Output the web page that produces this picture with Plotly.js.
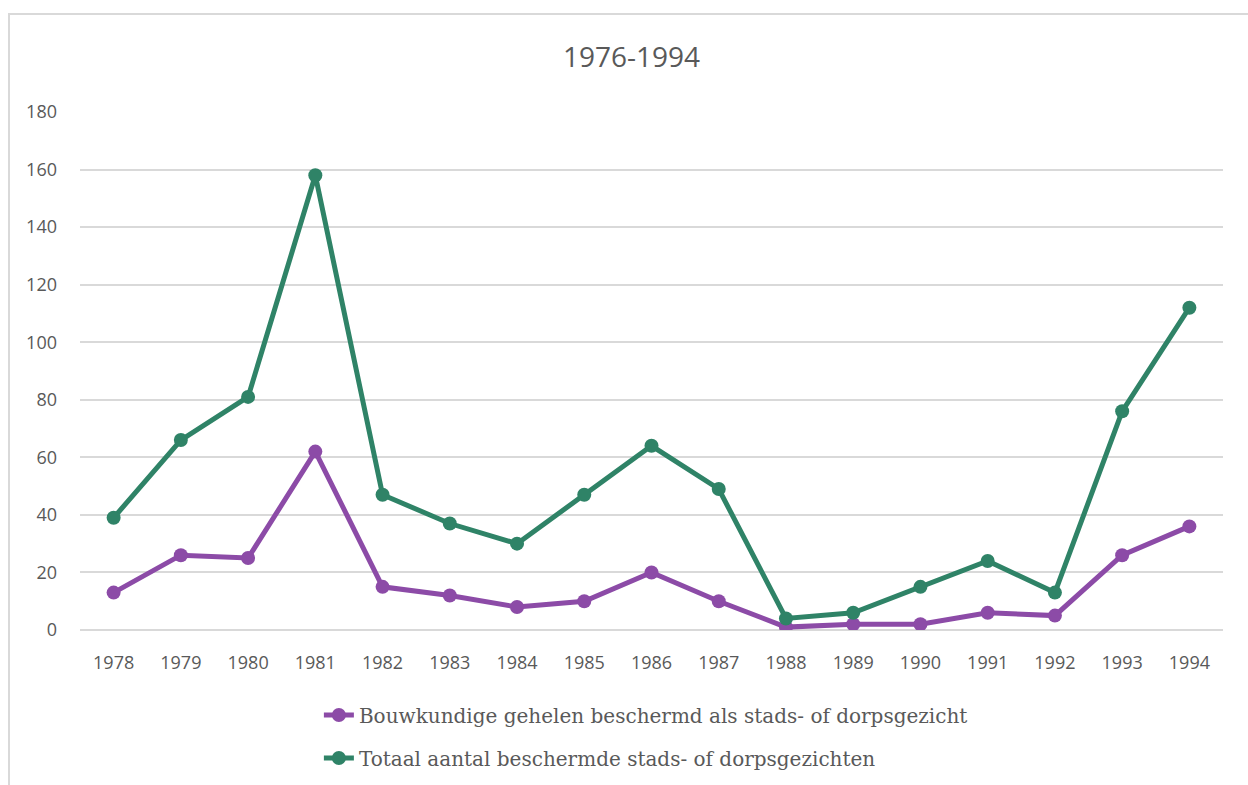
<!DOCTYPE html>
<html>
<head>
<meta charset="utf-8">
<script src="https://cdn.plot.ly/plotly-3.0.1.min.js"></script>
<style>
  html, body { margin: 0; padding: 0; background: #ffffff; }
  #frame { position: absolute; left: 8px; top: 13px; width: 1240px; height: 772px;
           border-top: 2px solid #d9d9d9; border-left: 2px solid #d9d9d9; box-sizing: border-box; }
  #chart { position: absolute; left: 0; top: 0; width: 1248px; height: 785px; }
</style>
</head>
<body>
<div id="frame"></div>
<div id="chart"></div>
<script>
const years = ['1978','1979','1980','1981','1982','1983','1984','1985','1986','1987','1988','1989','1990','1991','1992','1993','1994'];
const bouwkundig = [13, 26, 25, 62, 15, 12, 8, 10, 20, 10, 1, 2, 2, 6, 5, 26, 36];
const totaal = [39, 66, 81, 158, 47, 37, 30, 47, 64, 49, 4, 6, 15, 24, 13, 76, 112];
const seriesNames = ['Bouwkundige gehelen beschermd als stads- of dorpsgezicht', 'Totaal aantal beschermde stads- of dorpsgezichten'];
const yTicks = [0, 20, 40, 60, 80, 100, 120, 140, 160, 180];

const purple = '#8C4BA7';
const green = '#2F8367';

const traces = [
  { x: years, y: bouwkundig, name: seriesNames[0], type: 'scatter', mode: 'lines+markers',
    line: { color: purple, width: 5 }, marker: { color: purple, size: 14 }, legend: 'legend' },
  { x: years, y: totaal, name: seriesNames[1], type: 'scatter', mode: 'lines+markers',
    line: { color: green, width: 5 }, marker: { color: green, size: 14 }, legend: 'legend2' }
];

const legendFont = { family: 'DejaVu Serif, serif', size: 20, color: '#595959' };
const layout = {
  width: 1248, height: 785,
  paper_bgcolor: 'rgba(0,0,0,0)', plot_bgcolor: 'rgba(0,0,0,0)',
  margin: { l: 80, r: 25, t: 112, b: 155, autoexpand: false },
  title: { text: '1976-1994', font: { family: 'Open Sans, sans-serif', size: 28, color: '#595959' },
           x: 0.506, xref: 'container', xanchor: 'center', y: 1 - 57/785, yref: 'container', yanchor: 'middle' },
  xaxis: { type: 'category', range: [-0.5, 16.5], showgrid: false, zeroline: false, automargin: false,
           showline: false, ticks: '', tickfont: { family: 'Open Sans, sans-serif', size: 18, color: '#595959' },
           ticklabelstandoff: 20 },
  yaxis: { range: [0, 180], tickvals: yTicks, showgrid: true, gridcolor: '#d9d9d9', gridwidth: 2, automargin: false,
           zeroline: true, zerolinecolor: '#d9d9d9', zerolinewidth: 2, showline: false, ticks: '',
           tickfont: { family: 'Open Sans, sans-serif', size: 18, color: '#595959' }, ticklabelstandoff: 22 },
  showlegend: true,
  legend: { orientation: 'v', x: 0.209, xanchor: 'left', y: -(715 - 630) / 518, yanchor: 'middle',
            font: legendFont, bgcolor: 'rgba(0,0,0,0)' },
  legend2: { orientation: 'v', x: 0.209, xanchor: 'left', y: -(758 - 630) / 518, yanchor: 'middle',
            font: legendFont, bgcolor: 'rgba(0,0,0,0)' }
};

Plotly.newPlot('chart', traces, layout, { displayModeBar: false, staticPlot: true });
</script>
</body>
</html>
